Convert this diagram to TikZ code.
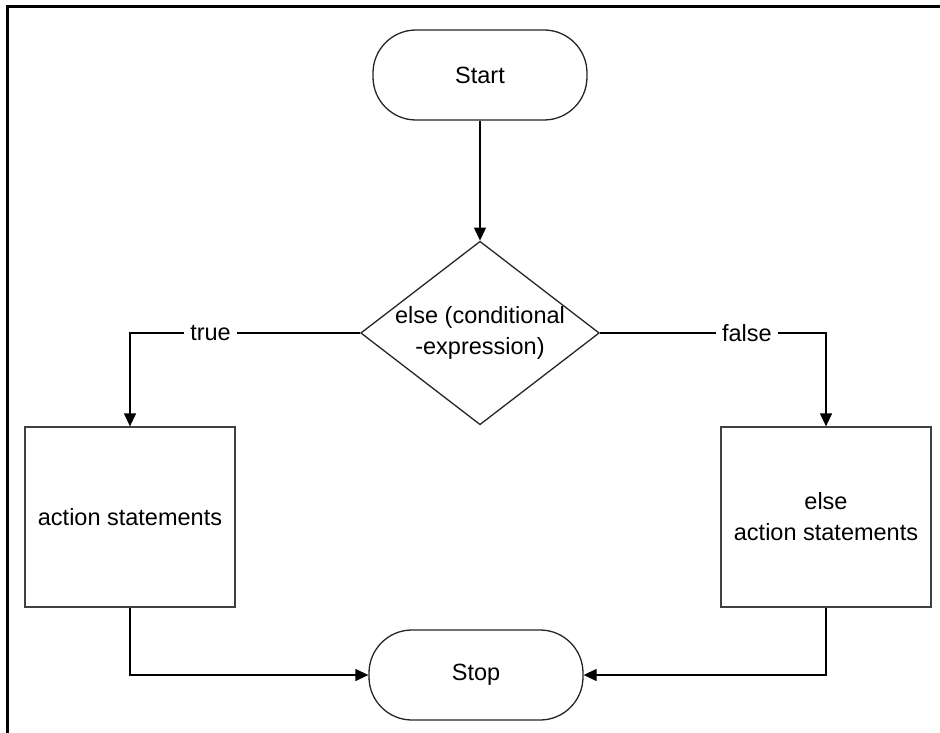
\documentclass[tikz,border=0pt]{standalone}
\usepackage{fontspec}
\setmainfont{Liberation Sans}
\usepackage{tikz}
\usetikzlibrary{shapes.geometric, arrows.meta, positioning}

\tikzset{
  term/.style={draw=black!85, rectangle, rounded corners=43pt, minimum width=214pt, minimum height=90pt},
  cond/.style={draw=black!85, diamond, aspect=1.3, inner sep=0pt, minimum width=234pt, minimum height=180pt, align=center},
  act/.style={draw=black!75, rectangle, minimum width=210pt, minimum height=180pt, align=center},
  lbl/.style={fill=white, inner sep=6pt},
  arr/.style={-{Triangle[length=13pt,width=12pt]}}
}

\begin{document}
\begin{tikzpicture}[x=1pt, y=-1pt, line width=1.3pt, font=\fontsize{23.5}{31}\selectfont]
\useasboundingbox (0,0) rectangle (940,733);
\draw[line width=3pt] (7,733) -- (7,7) -- (940,7);
\node[term] (start) at (480,75) {Start};
\node[cond] (cond) at (480,333) {else (conditional\\-expression)};
\node[act] (act) at (130,517) {action statements};
\node[act] (elseact) at (826,517) {else\\action statements};
\node[term] (stop) at (476,675) {Stop};
\coordinate (tl) at (act.north |- cond.west);
\coordinate (fl) at (elseact.north |- cond.east);
\coordinate (bl) at (act.south |- stop.west);
\coordinate (br) at (elseact.south |- stop.east);
\draw[arr] (start) -- (cond);
\draw[arr] (cond.west) -- node[lbl, pos=0.65] {true} (tl) -- (act.north);
\draw[arr] (cond.east) -- node[lbl, pos=0.65] {false} (fl) -- (elseact.north);
\draw[arr] (act.south) -- (bl) -- (stop.west);
\draw[arr] (elseact.south) -- (br) -- (stop.east);
\end{tikzpicture}
\end{document}
